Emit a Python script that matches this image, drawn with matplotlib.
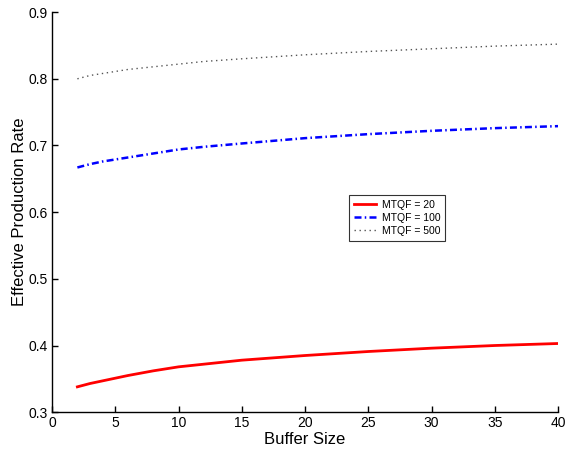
import matplotlib
matplotlib.use("Agg")
import matplotlib.pyplot as plt

buffer_size = [2, 3, 4, 5, 6, 8, 10, 12, 15, 20, 25, 30, 35, 40]
mtqf_20 = [0.338, 0.343, 0.347, 0.351, 0.355, 0.362, 0.368, 0.372, 0.378, 0.385, 0.391, 0.396, 0.400, 0.403]
mtqf_100 = [0.667, 0.672, 0.676, 0.679, 0.682, 0.688, 0.694, 0.698, 0.703, 0.711, 0.717, 0.722, 0.726, 0.729]
mtqf_500 = [0.800, 0.805, 0.808, 0.811, 0.814, 0.818, 0.822, 0.826, 0.830, 0.836, 0.841, 0.845, 0.849, 0.852]
labels = ["MTQF = 20", "MTQF = 100", "MTQF = 500"]
x_ticks = [0, 5, 10, 15, 20, 25, 30, 35, 40]
y_ticks = [0.3, 0.4, 0.5, 0.6, 0.7, 0.8, 0.9]

plt.rcParams['font.family'] = ['Liberation Sans', 'DejaVu Sans']

fig = plt.figure(figsize=(5.66, 4.49), dpi=100)
ax = fig.add_axes([0.092, 0.082, 0.894, 0.891])

ax.plot(buffer_size, mtqf_20, color='#ff0000', lw=2.0, ls='-', label=labels[0])
ax.plot(buffer_size, mtqf_100, color='#0000ff', lw=1.8, ls=(0, (2.8, 1.3, 0.6, 1.3)), label=labels[1])
ax.plot(buffer_size, mtqf_500, color='#555555', lw=1.0, ls=(0, (1, 2.6)), label=labels[2])

ax.set_xlim(0, 40)
ax.set_ylim(0.3, 0.9)
ax.set_xticks(x_ticks)
ax.set_xticklabels([str(t) for t in x_ticks])
ax.set_yticks(y_ticks)
ax.set_yticklabels([f"{t:.1f}" for t in y_ticks])
ax.tick_params(direction='in', length=4, width=1, labelsize=10, pad=3)
for s in ['top', 'right']:
    ax.spines[s].set_visible(False)
for s in ['left', 'bottom']:
    ax.spines[s].set_linewidth(1.0)

ax.set_xlabel("Buffer Size", fontsize=12, labelpad=1)
ax.set_ylabel("Effective Production Rate", fontsize=12, labelpad=1)

leg = ax.legend(loc='upper left', bbox_to_anchor=(0.587, 0.5425), fontsize=7.5,
                frameon=True, fancybox=False, edgecolor='black', handlelength=2.1,
                borderpad=0.45, labelspacing=0.3, handletextpad=0.6, borderaxespad=0)
leg.get_frame().set_linewidth(0.8)

fig.savefig("out.png", dpi=100)
